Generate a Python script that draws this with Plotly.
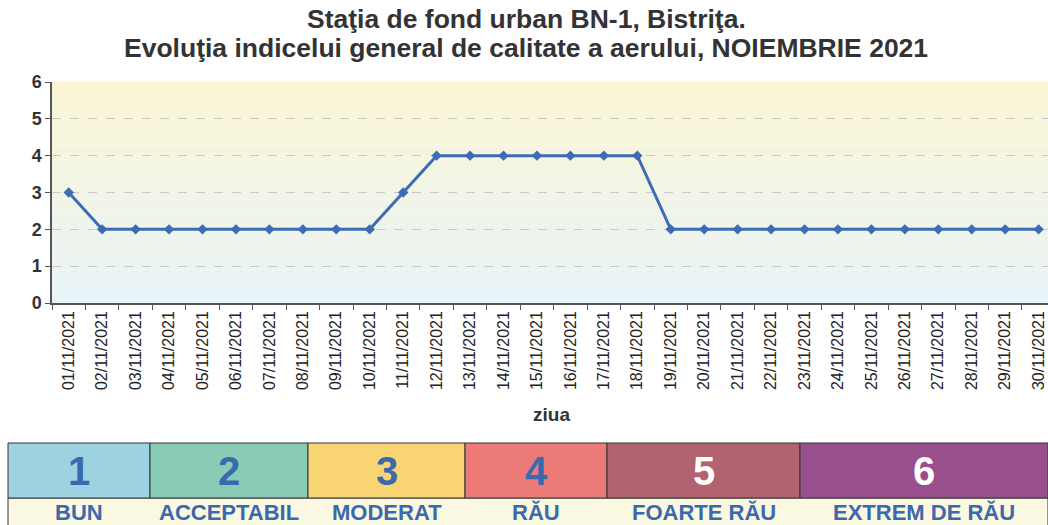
import plotly.graph_objects as go

days = ["01/11/2021", "02/11/2021", "03/11/2021", "04/11/2021", "05/11/2021",
        "06/11/2021", "07/11/2021", "08/11/2021", "09/11/2021", "10/11/2021",
        "11/11/2021", "12/11/2021", "13/11/2021", "14/11/2021", "15/11/2021",
        "16/11/2021", "17/11/2021", "18/11/2021", "19/11/2021", "20/11/2021",
        "21/11/2021", "22/11/2021", "23/11/2021", "24/11/2021", "25/11/2021",
        "26/11/2021", "27/11/2021", "28/11/2021", "29/11/2021", "30/11/2021"]
index_values = [3, 2, 2, 2, 2, 2, 2, 2, 2, 2, 3, 4, 4, 4, 4, 4, 4, 4,
                2, 2, 2, 2, 2, 2, 2, 2, 2, 2, 2, 2]

legend_numbers = ["1", "2", "3", "4", "5", "6"]
legend_labels = ["BUN", "ACCEPTABIL", "MODERAT", "RĂU", "FOARTE RĂU", "EXTREM DE RĂU"]
legend_colors = ["#9dd2e1", "#88cbb7", "#f8d572", "#ec7b78", "#b3626f", "#994f8d"]
legend_num_colors = ["#3a69ad", "#3a69ad", "#3a69ad", "#3a69ad", "#ffffff", "#ffffff"]
legend_edges_px = [8, 150, 308, 465, 607, 800, 1048]

W, H = 1048, 525
L, R, T, B = 52, 0, 82, 222
pw, ph = W - L - R, H - T - B
FONT = "Liberation Sans, Arial"


def px(x):
    return (x - L) / pw


def py(y):
    return (H - B - y) / ph


fig = go.Figure()
fig.add_trace(go.Scatter(
    x=days, y=index_values, mode="lines+markers",
    line=dict(color="#3d6cb4", width=3),
    marker=dict(symbol="diamond", size=8, color="#3d6cb4"),
    showlegend=False, hoverinfo="x+y"))

shapes = []
# gradient background (yellow top -> light blue bottom)
top = (251, 245, 212)
bot = (232, 244, 248)
n = 60
for i in range(n):
    t = i / (n - 1)
    c = tuple(int(round(bot[k] + (top[k] - bot[k]) * t)) for k in range(3))
    shapes.append(dict(type="rect", xref="x domain", yref="paper",
                       x0=0, x1=1, y0=i / n, y1=(i + 1) / n + 0.001,
                       fillcolor="rgb(%d,%d,%d)" % c, line=dict(width=0), layer="below"))

annotations = []
# legend table
y_top, y_mid, y_bot = 443, 498, 530
shapes.append(dict(type="rect", xref="paper", yref="paper",
                   x0=px(8), x1=px(1048), y0=py(y_bot), y1=py(y_mid),
                   fillcolor="#fbf8e2", line=dict(color="#333333", width=1)))
for i in range(6):
    x0, x1 = legend_edges_px[i], legend_edges_px[i + 1]
    shapes.append(dict(type="rect", xref="paper", yref="paper",
                       x0=px(x0), x1=px(x1), y0=py(y_mid), y1=py(y_top),
                       fillcolor=legend_colors[i], line=dict(color="#333333", width=1)))
    annotations.append(dict(xref="paper", yref="paper", x=px((x0 + x1) / 2), y=py(471),
                            text="<b>%s</b>" % legend_numbers[i], showarrow=False,
                            font=dict(family=FONT, size=40, color=legend_num_colors[i]),
                            xanchor="center", yanchor="middle"))
    annotations.append(dict(xref="paper", yref="paper", x=px((x0 + x1) / 2), y=py(512),
                            text="<b>%s</b>" % legend_labels[i], showarrow=False,
                            font=dict(family=FONT, size=22, color="#3a69ad"),
                            xanchor="center", yanchor="middle"))

# title
annotations.append(dict(xref="paper", yref="paper", x=px(526), y=py(19),
                        text="<b>Staţia de fond urban BN-1, Bistriţa.</b>", showarrow=False,
                        font=dict(family=FONT, size=26.5, color="#333333"),
                        xanchor="center", yanchor="middle"))
annotations.append(dict(xref="paper", yref="paper", x=px(526), y=py(48),
                        text="<b>Evoluţia indicelui general de calitate a aerului, NOIEMBRIE 2021</b>",
                        showarrow=False,
                        font=dict(family=FONT, size=26.5, color="#333333"),
                        xanchor="center", yanchor="middle"))
annotations.append(dict(xref="paper", yref="paper", x=px(551), y=py(414),
                        text="<b>ziua</b>", showarrow=False,
                        font=dict(family=FONT, size=19, color="#333333"),
                        xanchor="center", yanchor="middle"))

fig.update_layout(
    width=W, height=H,
    margin=dict(l=L, r=R, t=T, b=B),
    paper_bgcolor="white", plot_bgcolor="rgba(0,0,0,0)",
    shapes=shapes, annotations=annotations,
    font=dict(family=FONT, color="#333333"),
)
fig.update_xaxes(
    type="category", range=[-0.5, 29.28], tickangle=-90,
    tickfont=dict(size=16, color="#222222"),
    showgrid=False, showline=True, linecolor="#555555", linewidth=1.5,
    ticks="outside", ticklen=5, tickcolor="#555555", tickson="boundaries",
    zeroline=False, fixedrange=True,
)
fig.update_yaxes(
    range=[0, 6], dtick=1, tickfont=dict(size=18, color="#333333", family=FONT),
    tickprefix="<b>", ticksuffix="</b>",
    showgrid=True, gridcolor="#c9c9c9", griddash="dash", gridwidth=1,
    showline=True, linecolor="#555555", linewidth=1.5,
    ticks="outside", ticklen=5, tickcolor="#555555",
    zeroline=False, fixedrange=True,
)

fig.write_html("out.html", config={"displayModeBar": False},
               post_script="document.body.style.margin='0';document.body.style.overflow='hidden';")
